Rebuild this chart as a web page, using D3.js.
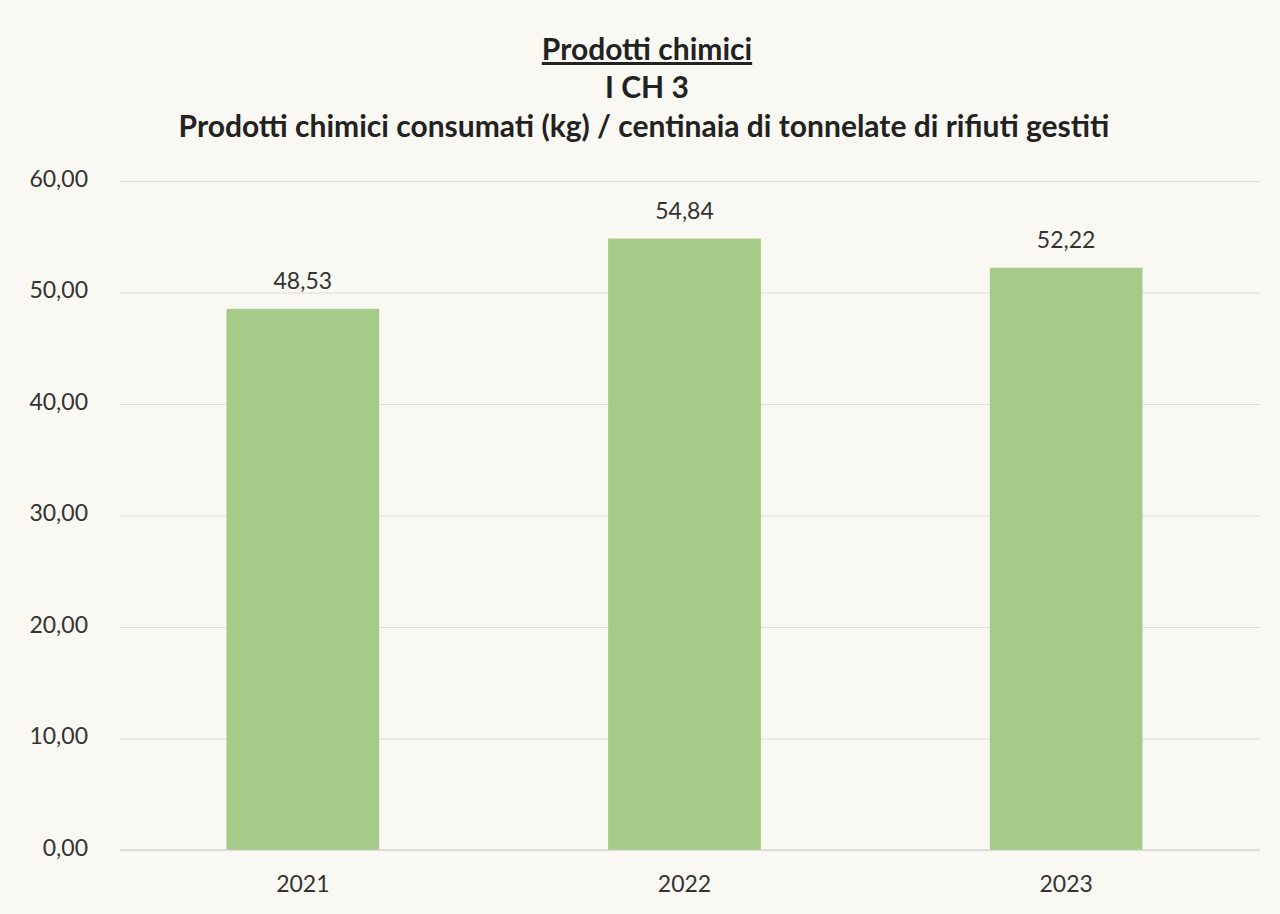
<!DOCTYPE html>
<html><head><meta charset="utf-8">
<script src="https://cdn.jsdelivr.net/npm/d3@7"></script>
<style>
html,body{margin:0;padding:0;background:#faf8f2;}
svg{display:block;font-family:Lato,"Open Sans",sans-serif;}
</style></head><body>
<svg id="c" width="1280" height="914"></svg>
<script>
const categories = ["2021", "2022", "2023"];
const values = [48.53, 54.84, 52.22];
const yTicks = [0, 10, 20, 30, 40, 50, 60];
const titleLines = ["Prodotti chimici", "I CH 3", "Prodotti chimici consumati (kg) / centinaia di tonnelate di rifiuti gestiti"];

const svg = d3.select("#c");
const W = 1280, H = 914;
const m = {left: 112, right: 23, top: 181, bottom: 64};
const FONT = "Lato, 'Open Sans', sans-serif";
const fmt = v => d3.format(".2f")(v).replace(".", ",");

svg.append("rect").attr("width", W).attr("height", H).attr("fill", "#faf8f2");

const x = d3.scaleBand().domain(categories).range([m.left, W - m.right]).paddingInner(0.6).paddingOuter(0.3);
const y = d3.scaleLinear().domain([0, 60]).range([H - m.bottom, m.top]);

// gridlines + y tick labels
const gridLeft = 120, gridRight = 1260;
const yAxis = d3.axisLeft(y).tickValues(yTicks).tickSize(-(gridRight - gridLeft)).tickFormat(fmt);
const gy = svg.append("g").attr("transform", `translate(${gridLeft},0)`).call(yAxis)
  .attr("font-family", FONT);
gy.select(".domain").remove();
gy.selectAll(".tick line").attr("stroke", "#dcdcd8").attr("stroke-width", 1.2);
gy.selectAll(".tick text").attr("fill", "#333").attr("font-size", 23).attr("x", -32).attr("dy", "0.22em");

// bars
svg.append("g").selectAll("rect").data(values).join("rect")
  .attr("x", (d, i) => x(categories[i]))
  .attr("y", d => y(d))
  .attr("width", x.bandwidth())
  .attr("height", d => y(0) - y(d))
  .attr("fill", "#a6ca88");

// value labels
svg.append("g").selectAll("text").data(values).join("text")
  .attr("x", (d, i) => x(categories[i]) + x.bandwidth() / 2)
  .attr("y", d => y(d) - 20)
  .attr("text-anchor", "middle")
  .attr("font-size", 23).attr("fill", "#333")
  .text(fmt);

// x axis
const xAxis = d3.axisBottom(x).tickSize(0).tickPadding(26);
const gx = svg.append("g").attr("transform", `translate(0,${y(0)})`).call(xAxis).attr("font-family", FONT);
gx.select(".domain").attr("stroke", "#cfcfcb").attr("stroke-width", 1.2)
  .attr("d", `M${gridLeft},0H${gridRight}`);
gx.selectAll(".tick text").attr("fill", "#333").attr("font-size", 23);

// titles
const cx = 647;
svg.append("text").attr("x", cx).attr("y", 60).attr("text-anchor", "middle")
  .attr("font-size", 30).attr("font-weight", "bold").attr("fill", "#222")
  .attr("text-decoration", "underline").text(titleLines[0]);
svg.append("text").attr("x", cx).attr("y", 98).attr("text-anchor", "middle")
  .attr("font-size", 30).attr("font-weight", "bold").attr("fill", "#222").text(titleLines[1]);
svg.append("text").attr("x", 644).attr("y", 137).attr("text-anchor", "middle")
  .attr("font-size", 30).attr("font-weight", "bold").attr("fill", "#222").text(titleLines[2]);
</script>
</body></html>
